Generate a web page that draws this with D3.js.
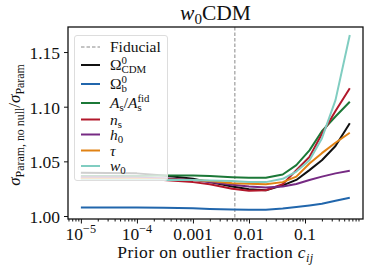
<!DOCTYPE html>
<html>
<head>
<meta charset="utf-8">
<script src="https://cdn.jsdelivr.net/npm/d3@7"></script>
<style>
  body { margin: 0; background: #fff; }
  text { font-family: "Liberation Serif", "DejaVu Serif", serif; fill: #111; }
</style>
</head>
<body>
<div id="chart"></div>
<script>
// prior on outlier fraction (x values)
var priorValues = [1e-5, 3e-5, 1e-4, 3e-4, 1e-3, 2e-3, 5e-3, 1e-2, 2e-2, 4e-2, 7e-2, 0.12, 0.2, 0.35, 0.63];

// sigma ratio per parameter
var omegaCdm = [1.0395, 1.0393, 1.039, 1.037, 1.034, 1.031, 1.027, 1.0245, 1.0235, 1.028, 1.033, 1.042, 1.051, 1.064, 1.0848];
var omegaB   = [1.0078, 1.0078, 1.0077, 1.0075, 1.007, 1.0065, 1.006, 1.0057, 1.0058, 1.0068, 1.0082, 1.0097, 1.0113, 1.014, 1.0167];
var aS       = [1.0365, 1.0365, 1.0365, 1.037, 1.037, 1.0365, 1.0355, 1.035, 1.035, 1.038, 1.0466, 1.060, 1.0775, 1.091, 1.1045];
var nS       = [1.0345, 1.0345, 1.034, 1.033, 1.031, 1.029, 1.025, 1.023, 1.0235, 1.029, 1.042, 1.054, 1.075, 1.096, 1.1168];
var h0       = [1.0355, 1.0355, 1.035, 1.0345, 1.033, 1.031, 1.0285, 1.027, 1.026, 1.027, 1.0293, 1.033, 1.036, 1.039, 1.0414];
var tau      = [1.034, 1.034, 1.034, 1.0335, 1.033, 1.032, 1.030, 1.0295, 1.029, 1.031, 1.036, 1.048, 1.0575, 1.067, 1.0762];
var w0       = [1.033, 1.033, 1.033, 1.033, 1.033, 1.0325, 1.032, 1.031, 1.031, 1.034, 1.0407, 1.051, 1.071, 1.106, 1.1655];

var fiducialPrior = 0.0056;

var yTicks = [1.00, 1.05, 1.10, 1.15];
var xTicks = [1e-5, 1e-4, 1e-3, 1e-2, 1e-1];

var seriesList = [omegaCdm, omegaB, aS, nS, h0, tau, w0];
var seriesColors = ["#111111", "#2166ac", "#1b7837", "#b2182b", "#762a83", "#e08214", "#80cdc1"];

var width = 374, height = 273;
var plotLeft = 68, plotRight = 363, plotTop = 27, plotBottom = 219;

var svg = d3.select("#chart").append("svg")
    .attr("width", width)
    .attr("height", height);

var x = d3.scaleLog()
    .domain([Math.pow(10, -5.23), Math.pow(10, 0.035)])
    .range([plotLeft, plotRight]);

var y = d3.scaleLinear()
    .domain([0.99726, 1.1729])
    .range([plotBottom, plotTop]);

// draws text with sub/superscripts, parts: {t, it, s:'sup'|'sub', stack}
function mathText(g, x0, y0, parts, size, anchor, spacing) {
    var t = g.append("text").attr("font-size", size);
    if (spacing) t.attr("letter-spacing", spacing);
    var cursor = x0, prevStart = x0, prevEnd = x0;
    var items = [];
    parts.forEach(function(p) {
        var fs = p.s ? size * 0.7 : size;
        var yy = y0 + (p.s == "sup" ? -size * 0.38 : p.s == "sub" ? size * 0.22 : 0);
        var startX = p.stack ? prevStart : cursor;
        var ts = t.append("tspan")
            .attr("x", startX)
            .attr("y", yy)
            .attr("font-size", fs)
            .style("font-style", p.it ? "italic" : "normal")
            .text(p.t);
        var w = ts.node().getComputedTextLength();
        items.push(ts);
        if (p.stack) {
            cursor = Math.max(prevEnd, startX + w);
        } else {
            prevStart = startX;
            prevEnd = startX + w;
            cursor = startX + w;
        }
    });
    var total = cursor - x0;
    var shift = anchor == "middle" ? -total / 2 : anchor == "end" ? -total : 0;
    if (shift != 0) {
        items.forEach(function(ts) {
            ts.attr("x", +ts.attr("x") + shift);
        });
    }
    return t;
}

// fiducial line
svg.append("line")
    .attr("x1", x(fiducialPrior)).attr("x2", x(fiducialPrior))
    .attr("y1", plotTop).attr("y2", plotBottom)
    .attr("stroke", "#888")
    .attr("stroke-width", 1)
    .attr("stroke-dasharray", "3.5,2");

var line = d3.line()
    .x(function(d, i) { return x(priorValues[i]); })
    .y(function(d) { return y(d); });

svg.append("g")
    .selectAll("path")
    .data(seriesList)
    .enter()
    .append("path")
    .attr("d", function(d) { return line(d); })
    .attr("fill", "none")
    .attr("stroke", function(d, i) { return seriesColors[i]; })
    .attr("stroke-width", 2)
    .attr("stroke-linejoin", "round");

// axes
var yAxis = svg.append("g")
    .attr("transform", "translate(" + plotLeft + ",0)")
    .call(d3.axisLeft(y).tickValues(yTicks).tickSize(4).tickFormat(d3.format(".2f")));
yAxis.select(".domain").remove();
yAxis.selectAll("text").attr("font-size", 17.5).attr("dx", "-1").attr("dy", "0.36em")
    .style("font-family", "Liberation Serif").attr("fill", "#111");
yAxis.selectAll("line").attr("stroke", "#111");

var minorTicks = [];
for (var e = -6; e <= 0; e++) {
    for (var k = 2; k <= 9; k++) {
        var v = k * Math.pow(10, e);
        if (v >= x.domain()[0] && v <= x.domain()[1]) minorTicks.push(v);
    }
}

var xAxisMinor = svg.append("g")
    .attr("transform", "translate(0," + plotBottom + ")")
    .call(d3.axisBottom(x).tickValues(minorTicks).tickSize(2.5).tickFormat(""));
xAxisMinor.select(".domain").remove();
xAxisMinor.selectAll("line").attr("stroke", "#111");

var xAxis = svg.append("g")
    .attr("transform", "translate(0," + plotBottom + ")")
    .call(d3.axisBottom(x).tickValues(xTicks).tickSize(4.5).tickFormat(""));
xAxis.select(".domain").remove();
xAxis.selectAll("line").attr("stroke", "#111");

xTicks.forEach(function(v) {
    var px = x(v);
    if (v < 1e-3) {
        var ex = Math.round(-Math.log10(v));
        mathText(svg, px, 239.5, [{t: "10"}, {t: "\u2212" + ex, s: "sup"}], 17.5, "middle");
    } else {
        svg.append("text").attr("x", px).attr("y", 239.5).attr("font-size", 17.5)
            .attr("text-anchor", "middle").text(String(v));
    }
});

// frame
svg.append("rect")
    .attr("x", plotLeft).attr("y", plotTop)
    .attr("width", plotRight - plotLeft).attr("height", plotBottom - plotTop)
    .attr("fill", "none").attr("stroke", "#111").attr("stroke-width", 1.3);

// title
mathText(svg, (plotLeft + plotRight) / 2, 19.5, [{t: "w", it: true}, {t: "0", s: "sub"}, {t: "CDM"}], 21.5, "middle");

// x label
mathText(svg, (plotLeft + plotRight) / 2, 258, [{t: "Prior on outlier fraction\u00a0"}, {t: "c", it: true}, {t: "ij", it: true, s: "sub"}], 17.5, "middle", 0.4);

// y label
var yl = svg.append("g").attr("transform", "translate(20,125) rotate(-90)");
mathText(yl, 0, 0, [{t: "\u03c3", it: true}, {t: "Param, no null", s: "sub"}, {t: "/"}, {t: "\u03c3", it: true}, {t: "Param", s: "sub"}], 17, "middle");

// legend
var legend = svg.append("g");
legend.append("rect")
    .attr("x", 74.5).attr("y", 35.5)
    .attr("width", 93).attr("height", 145)
    .attr("rx", 2.5)
    .attr("fill", "#fff").attr("fill-opacity", 0.8)
    .attr("stroke", "#ddd").attr("stroke-width", 1);

var legendRows = [47, 65, 84, 103, 119.5, 134.5, 150.5, 166];
var legendLabels = [
    [{t: "Fiducial"}],
    [{t: "\u03a9"}, {t: "0", s: "sup"}, {t: "CDM", s: "sub", stack: true}],
    [{t: "\u03a9"}, {t: "0", s: "sup"}, {t: "b", s: "sub", stack: true}],
    [{t: "A", it: true}, {t: "s", s: "sub"}, {t: "/"}, {t: "A", it: true}, {t: "s", s: "sub"}, {t: "fid", s: "sup", stack: true}],
    [{t: "n", it: true}, {t: "s", s: "sub"}],
    [{t: "h", it: true}, {t: "0", s: "sub"}],
    [{t: "\u03c4", it: true}],
    [{t: "w", it: true}, {t: "0", s: "sub"}]
];

legendRows.forEach(function(ry, i) {
    var h = legend.append("line")
        .attr("x1", 81).attr("x2", 100)
        .attr("y1", ry).attr("y2", ry);
    if (i == 0) {
        h.attr("stroke", "#888").attr("stroke-width", 1).attr("stroke-dasharray", "3.5,2");
    } else {
        h.attr("stroke", seriesColors[i - 1]).attr("stroke-width", 2);
    }
    mathText(legend, 110, ry + 5, legendLabels[i], 15.5, "start");
});
</script>
</body>
</html>
